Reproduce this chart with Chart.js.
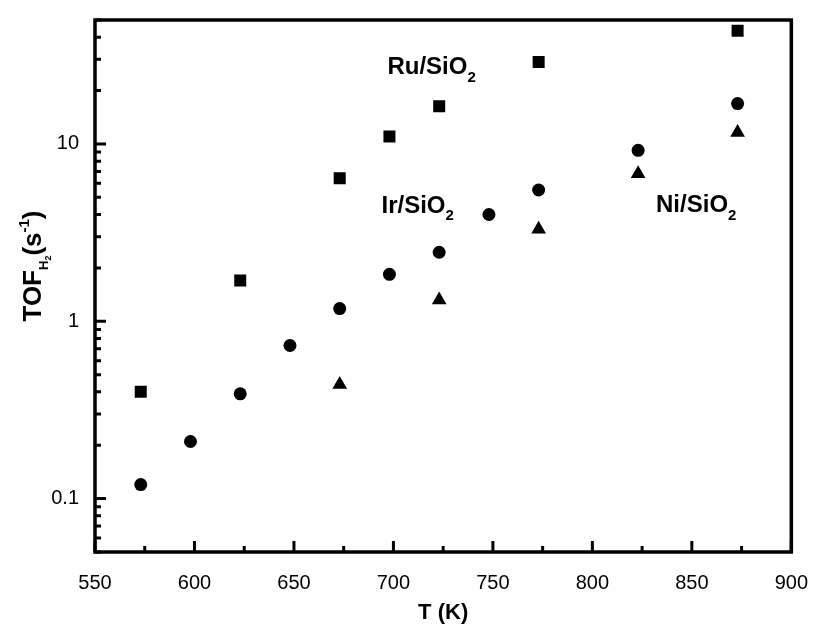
<!DOCTYPE html>
<html>
<head>
<meta charset="utf-8">
<script src="https://cdn.jsdelivr.net/npm/chart.js@4.4.1/dist/chart.umd.min.js"></script>
<style>
    html, body { margin: 0; padding: 0; background: #fff; }
    #wrap { width: 819px; height: 626px; }
</style>
</head>
<body>
<div id="wrap"><canvas id="tofChart" width="819" height="626"></canvas></div>
<script>
// TOF of H2 vs temperature for three catalysts
const ruT = [573, 623, 673, 698, 723, 773, 873];
const ruTOF = [0.40, 1.70, 6.4, 11.0, 16.3, 29, 43.5];

const irT = [573, 598, 623, 648, 673, 698, 723, 748, 773, 823, 873];
const irTOF = [0.12, 0.21, 0.39, 0.73, 1.18, 1.84, 2.45, 4.0, 5.5, 9.2, 16.9];

const niT = [673, 723, 773, 823, 873];
const niTOF = [0.44, 1.32, 3.3, 6.8, 11.6];

const xTicks = [550, 600, 650, 700, 750, 800, 850, 900];
const xMinor = [575, 625, 675, 725, 775, 825, 875];
const yTicks = [0.1, 1, 10];

// series labels, anchored at (T, TOF)
const seriesLabels = [
    { text: 'Ru/SiO', sub: '2', t: 697, v: 27 },
    { text: 'Ir/SiO', sub: '2', t: 694, v: 4.45 },
    { text: 'Ni/SiO', sub: '2', t: 832, v: 4.5 },
];

const FONT = '"Liberation Sans", Arial, Helvetica, sans-serif';

function pts(xs, ys) {
    return xs.map((x, i) => ({ x: x, y: ys[i] }));
}

// draws a run of text pieces (size, vertical shift) from x along the baseline
function drawRuns(ctx, runs, x, y) {
    let cx = x;
    runs.forEach(r => {
        ctx.font = 'bold ' + r.size + 'px ' + FONT;
        ctx.fillText(r.t, cx, y + (r.dy || 0));
        cx += ctx.measureText(r.t).width;
    });
    return cx - x;
}

function runsWidth(ctx, runs) {
    let w = 0;
    runs.forEach(r => {
        ctx.font = 'bold ' + r.size + 'px ' + FONT;
        w += ctx.measureText(r.t).width;
    });
    return w;
}

const framePlugin = {
    id: 'frame',
    afterDraw(chart) {
        const ctx = chart.ctx;
        const a = chart.chartArea;
        const xs = chart.scales.x;
        const ys = chart.scales.y;
        ctx.save();
        ctx.strokeStyle = '#000';
        ctx.fillStyle = '#000';
        ctx.lineCap = 'butt';

        // inward tick marks
        ctx.lineWidth = 3;
        ctx.beginPath();
        xTicks.forEach(v => {
            const p = xs.getPixelForValue(v);
            ctx.moveTo(p, a.bottom);
            ctx.lineTo(p, a.bottom - 11);
        });
        xMinor.forEach(v => {
            const p = xs.getPixelForValue(v);
            ctx.moveTo(p, a.bottom);
            ctx.lineTo(p, a.bottom - 6);
        });
        for (let d = 0.01; d <= 10; d *= 10) {
            for (let k = 1; k <= 9; k++) {
                const v = d * k;
                if (v < ys.min || v > ys.max) continue;
                const p = ys.getPixelForValue(v);
                const len = k === 1 ? 11 : 6;
                ctx.moveTo(a.left, p);
                ctx.lineTo(a.left + len, p);
            }
        }
        ctx.stroke();

        // box
        ctx.lineWidth = 3.5;
        ctx.strokeRect(a.left, a.top, a.right - a.left, a.bottom - a.top);

        // series labels
        ctx.textBaseline = 'middle';
        ctx.textAlign = 'left';
        seriesLabels.forEach(l => {
            const px = xs.getPixelForValue(l.t);
            const py = ys.getPixelForValue(l.v);
            drawRuns(ctx, [
                { t: l.text, size: 24 },
                { t: l.sub, size: 15, dy: 10 },
            ], px, py);
        });

        // y axis title: TOF_H2 (s^-1)
        const runs = [
            { t: 'TOF', size: 26 },
            { t: 'H', size: 13, dy: 7 },
            { t: '2', size: 9, dy: 10 },
            { t: '(s', size: 26 },
            { t: '-1', size: 15, dy: -12 },
            { t: ')', size: 26 },
        ];
        ctx.textBaseline = 'alphabetic';
        const w = runsWidth(ctx, runs);
        ctx.translate(41, 266);
        ctx.rotate(-Math.PI / 2);
        drawRuns(ctx, runs, -w / 2, 0);
        ctx.restore();
    },
};

new Chart(document.getElementById('tofChart'), {
    type: 'scatter',
    data: {
        datasets: [
            {
                label: 'Ru/SiO2',
                data: pts(ruT, ruTOF),
                pointStyle: 'rect',
                pointRadius: 8.5,
                backgroundColor: '#000',
                borderColor: '#000',
                borderWidth: 0,
            },
            {
                label: 'Ir/SiO2',
                data: pts(irT, irTOF),
                pointStyle: 'circle',
                pointRadius: 6.5,
                backgroundColor: '#000',
                borderColor: '#000',
                borderWidth: 0,
            },
            {
                label: 'Ni/SiO2',
                data: pts(niT, niTOF),
                pointStyle: 'triangle',
                pointRadius: 8.5,
                backgroundColor: '#000',
                borderColor: '#000',
                borderWidth: 0,
            },
        ],
    },
    options: {
        responsive: false,
        animation: false,
        layout: { padding: { left: 0, top: 13, right: 17, bottom: 0 } },
        plugins: {
            legend: { display: false },
            tooltip: { enabled: false },
        },
        scales: {
            x: {
                type: 'linear',
                min: 550,
                max: 900,
                afterBuildTicks: s => { s.ticks = xTicks.map(v => ({ value: v })); },
                afterFit: s => { s.height = 74; },
                ticks: {
                    color: '#000',
                    font: { family: FONT, size: 20 },
                    padding: 11,
                    maxRotation: 0,
                },
                grid: { display: false },
                border: { display: false },
                title: {
                    display: true,
                    text: 'T (K)',
                    color: '#000',
                    font: { family: FONT, size: 22, weight: 'bold' },
                    padding: { top: 6, bottom: 0 },
                },
            },
            y: {
                type: 'logarithmic',
                min: 0.05,
                max: 50,
                afterBuildTicks: s => { s.ticks = yTicks.map(v => ({ value: v })); },
                afterFit: s => { s.width = 95; },
                ticks: {
                    color: '#000',
                    font: { family: FONT, size: 20 },
                    padding: 8,
                    callback: v => String(v),
                },
                grid: { display: false },
                border: { display: false },
            },
        },
    },
    plugins: [framePlugin],
});
</script>
</body>
</html>
